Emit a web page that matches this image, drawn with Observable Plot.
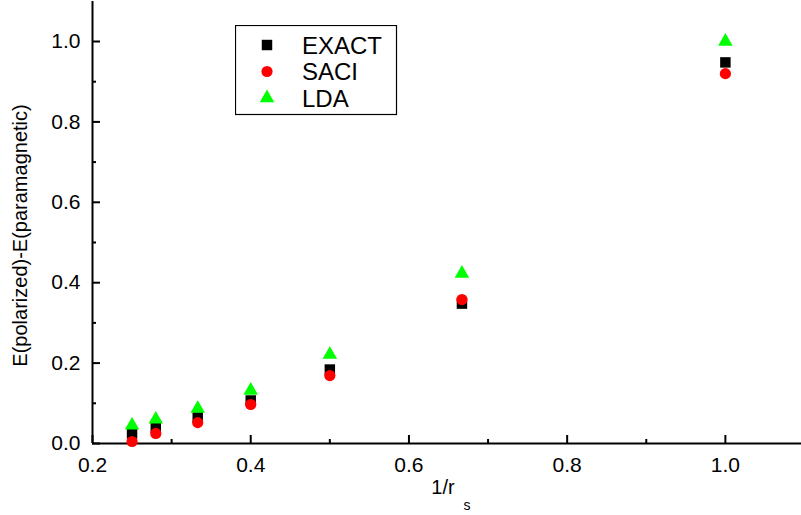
<!DOCTYPE html>
<html><head><meta charset="utf-8">
<script src="https://cdn.jsdelivr.net/npm/d3@7"></script>
<script src="https://cdn.jsdelivr.net/npm/@observablehq/plot@0.6"></script>
<style>
body{margin:0;background:#fff;}
#wrap{position:relative;width:801px;height:515px;font-family:"Liberation Sans",Arial,sans-serif;overflow:hidden}
#legend{position:absolute;left:235px;top:25px;}
</style></head><body><div id="wrap"></div>
<script>
const invRs = [0.25, 0.28, 0.333, 0.4, 0.5, 0.667, 1.0];
const exact = [0.025, 0.04, 0.065, 0.107, 0.184, 0.348, 0.948];
const saci  = [0.005, 0.025, 0.052, 0.097, 0.169, 0.358, 0.920];
const lda   = [0.045, 0.06, 0.087, 0.132, 0.221, 0.423, 1.0];
const seriesNames = ["EXACT", "SACI", "LDA"];
const xMajor = [0.2, 0.4, 0.6, 0.8, 1.0];
const xMinor = [0.3, 0.5, 0.7, 0.9];
const yMajor = [0.0, 0.2, 0.4, 0.6, 0.8, 1.0];
const yMinor = [0.1, 0.3, 0.5, 0.7, 0.9];
const xLabel = "1/r", xLabelSub = "s";
const yLabel = "E(polarized)-E(paramagnetic)";

const pts = (ys) => invRs.map((x, i) => ({x, y: ys[i]}));
const font = "Liberation Sans, Arial, sans-serif";

const chart = Plot.plot({
  width: 801, height: 515,
  marginLeft: 92, marginRight: 0, marginTop: 1, marginBottom: 72,
  style: {fontSize: "21px", fontFamily: font, color: "#000", background: "#fff"},
  x: {domain: [0.2, 1.1], range: [92, 804]},
  y: {domain: [0, 1.1], range: [443, 0.8]},
  marks: [
    Plot.axisX(xMajor, {tickSize: -8, tickFormat: () => "", label: null, strokeWidth: 2}),
    Plot.axisX(xMinor, {tickSize: -4, tickFormat: () => "", label: null, strokeWidth: 2}),
    Plot.axisX(xMajor, {tickSize: 0, tickPadding: 14, tickFormat: d3.format(".1f"), label: null, fontSize: 21}),
    Plot.axisY(yMajor, {tickSize: -8, tickFormat: () => "", label: null, strokeWidth: 2}),
    Plot.axisY(yMinor, {tickSize: -4, tickFormat: () => "", label: null, strokeWidth: 2}),
    Plot.axisY(yMajor, {tickSize: 0, tickPadding: 12, tickFormat: d3.format(".1f"), label: null, fontSize: 21}),
    Plot.ruleY([0], {strokeWidth: 2}),
    Plot.ruleX([0.2], {strokeWidth: 2}),
    Plot.dot(pts(exact), {x: "x", y: "y", symbol: "square", r: 5.9, fill: "#000", stroke: "none"}),
    Plot.dot(pts(lda), {x: "x", y: "y", symbol: "triangle", r: 5.4, fill: "#00ff00", stroke: "none"}),
    Plot.dot(pts(saci), {x: "x", y: "y", symbol: "circle", r: 5.6, fill: "#ff0000", stroke: "none"}),
    Plot.text([yLabel], {text: d => d, frameAnchor: "left", textAnchor: "middle", lineAnchor: "middle", dx: -72, dy: 13, rotate: -90, fontSize: 20, fill: "#000"}),
    Plot.text([xLabel], {text: d => d, frameAnchor: "bottom", textAnchor: "middle", lineAnchor: "middle", dx: -4, dy: 44, fontSize: 20, fill: "#000"}),
    Plot.text([xLabelSub], {text: d => d, frameAnchor: "bottom", textAnchor: "middle", lineAnchor: "middle", dx: 20, dy: 62, fontSize: 14, fill: "#000"})
  ]
});
const wrap = document.getElementById("wrap");
wrap.appendChild(chart);

// legend
const colors = ["#000", "#ff0000", "#00ff00"];
const symbols = [d3.symbolSquare, d3.symbolCircle, d3.symbolTriangle];
const sizes = [Math.PI * 5.9 * 5.9, Math.PI * 5.6 * 5.6, Math.PI * 5.4 * 5.4];
const leg = d3.create("svg").attr("id", "legend").attr("width", 163).attr("height", 91);
leg.append("rect").attr("x", 0.5).attr("y", 0.5).attr("width", 161).attr("height", 89)
  .attr("fill", "#fff").attr("stroke", "#000").attr("stroke-width", 1.2);
seriesNames.forEach((name, i) => {
  const cy = 20 + i * 26.5;
  leg.append("path").attr("d", d3.symbol(symbols[i], sizes[i])())
    .attr("transform", `translate(32,${cy})`).attr("fill", colors[i]);
  leg.append("text").attr("x", 67).attr("y", cy).attr("dy", "0.36em")
    .attr("font-family", font).attr("font-size", 24).text(name);
});
wrap.appendChild(leg.node());
</script></body></html>
